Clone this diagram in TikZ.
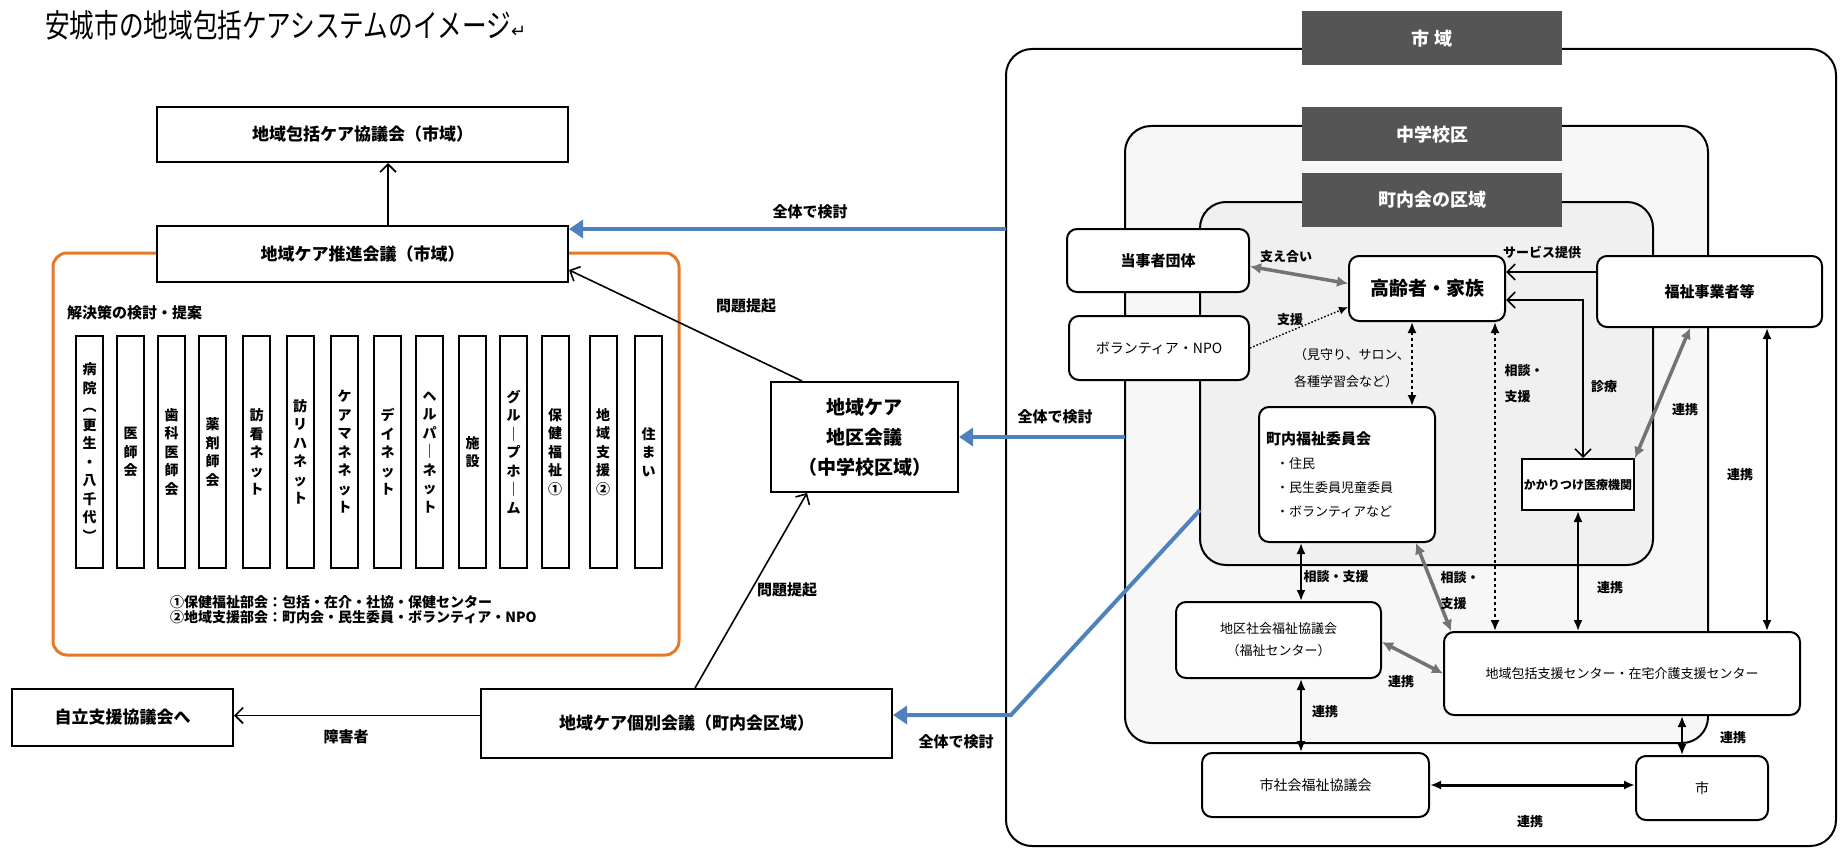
\documentclass[tikz,border=0pt]{standalone}
\usepackage{fontspec}
\setmainfont{Noto Sans CJK JP}
\newfontfamily\titlefont[FakeStretch=0.77]{Noto Sans CJK JP}
\newfontfamily\symfont{DejaVu Sans}
\usetikzlibrary{arrows.meta}
\definecolor{careorange}{RGB}{228,122,40}
\definecolor{careblue}{RGB}{79,129,189}
\definecolor{zonedark}{RGB}{85,85,85}
\tikzset{
  box/.style={draw, line width=2pt, fill=white, align=center, inner sep=0pt,
    font=\bfseries\fontsize{17}{20}\selectfont},
  rbox/.style={box, rounded corners=10pt},
  colbox/.style={draw, line width=2pt, fill=white, minimum width=27pt,
    minimum height=232pt, inner sep=0pt, align=center,
    font=\bfseries\fontsize{14}{18.5}\selectfont},
  zonetag/.style={fill=zonedark, text=white, minimum width=260pt,
    minimum height=54pt, inner sep=0pt, font=\bfseries\fontsize{18}{20}\selectfont},
  zone/.style={draw, line width=2pt, rounded corners=26pt},
  lbl/.style={font=\bfseries\fontsize{15}{18}\selectfont, inner sep=1pt},
  tagtext/.style={font=\bfseries\fontsize{13}{26}\selectfont, inner sep=1pt, align=left},
  conn/.style={line width=1.6pt, -{Straight Barb[length=8pt,width=16pt]}},
  twoway/.style={line width=1.6pt,
    {Straight Barb[length=8pt,width=16pt]}-{Straight Barb[length=8pt,width=16pt]}},
  blueconn/.style={line width=4pt, careblue, -{Triangle[length=14pt,width=18pt]}},
  linkarrow/.style={line width=2pt, {Latex[length=11pt,width=9pt]}-{Latex[length=11pt,width=9pt]}},
  hatcharrow/.style={line width=3.5pt, black!55,
    {Latex[length=11pt,width=11pt]}-{Latex[length=11pt,width=11pt]}},
}
\begin{document}
\begin{tikzpicture}[x=1pt, y=-1pt]
  \useasboundingbox (0,0) rectangle (1843,853);
  \node[anchor=west, inner sep=0pt, font=\titlefont\fontsize{32}{32}\selectfont] (title) at (45,25)
    {安城市の地域包括ケアシステムのイメージ{\symfont\fontsize{18}{18}\selectfont ↵}};

  % regions on the right
  \draw[zone] (1006,49) rectangle (1836,846);
  \draw[zone, fill=black!3] (1125,126) rectangle (1708,743);
  \draw[zone, fill=black!6] (1200,202) rectangle (1653,565);
  \node[zonetag] (shiiki) at (1432,38.5) {市\ 域};
  \node[zonetag] (chugaku) at (1432,134.5) {中学校区};
  \node[zonetag] (chonai) at (1432,200) {町内会の区域};

  % left side
  \draw[line width=3pt, careorange, rounded corners=14pt] (53,253) rectangle (679,655);
  \node[box, minimum width=411pt, minimum height=55pt] (kyogikai) at (362.5,134.5) {地域包括ケア協議会（市域）};
  \node[box, minimum width=411pt, minimum height=56pt] (suishin) at (362.5,254) {地域ケア推進会議（市域）};
  \node[lbl, anchor=west] (kaiketsu) at (66,313) {解決策の検討・提案};
  \foreach \x/\t [count=\i] in {89.5/{病\\院\\︵\\更\\生\\・\\八\\千\\代\\︶}, 130.5/{医\\師\\会},
      171.5/{歯\\科\\医\\師\\会}, 212.5/{薬\\剤\\師\\会}, 256.5/{訪\\看\\ネ\\ッ\\ト},
      300/{訪\\リ\\ハ\\ネ\\ッ\\ト}, 344.5/{ケ\\ア\\マ\\ネ\\ネ\\ッ\\ト}, 387.5/{デ\\イ\\ネ\\ッ\\ト},
      429.5/{ヘ\\ル\\パ\\｜\\ネ\\ッ\\ト}, 472.5/{施\\設}, 513.5/{グ\\ル\\｜\\プ\\ホ\\｜\\ム},
      555/{保\\健\\福\\祉\\①}, 603/{地\\域\\支\\援\\②}, 648.5/{住\\ま\\い}}
    \node[colbox] (col\i) at (\x,452) {\t};
  \node[anchor=west, align=left, inner sep=0pt, font=\bfseries\fontsize{14}{15.5}\selectfont] (bukai) at (170,609.5)
    {①保健福祉部会：包括・在介・社協・保健センター\\②地域支援部会：町内会・民生委員・ボランティア・NPO};
  \node[box, minimum width=187pt, minimum height=110pt, font=\bfseries\fontsize{19}{30}\selectfont] (chiku) at (864.5,437)
    {地域ケア\\地区会議\\（中学校区域）};
  \node[box, minimum width=411pt, minimum height=69pt] (kobetsu) at (686.5,723.5) {地域ケア個別会議（町内会区域）};
  \node[box, minimum width=221pt, minimum height=57pt] (jiritsu) at (122.5,717.5) {自立支援協議会へ};

  \coordinate (shiikiW) at (1006,229);
  \coordinate (chugakuW) at (1125,437);
  \coordinate (chonaiW) at (1200,510);
  \coordinate (bend) at (1011,715);
  \draw[blueconn] (shiikiW) -- (suishin.east |- shiikiW);
  \draw[blueconn] (chugakuW) -- (chiku.east |- chugakuW);
  \draw[blueconn] (chonaiW) -- (bend) -- (kobetsu.east |- bend);

  \draw[conn] ([xshift=25.5pt]suishin.north) -- ([xshift=25.5pt]kyogikai.south);
  \draw[conn] ([xshift=-62.5pt]chiku.north) -- ([yshift=-16pt]suishin.east);
  \draw[conn] ([xshift=8.5pt]kobetsu.north) -- ([xshift=-57.5pt]chiku.south);
  \draw[conn] ([yshift=8pt]kobetsu.west) -- ([yshift=8pt]kobetsu.west -| jiritsu.east);

  \node[lbl] (kento1) at (810,212) {全体で検討};
  \node[lbl] (teiki1) at (746,306) {問題提起};
  \node[lbl] (kento2) at (1055,417) {全体で検討};
  \node[lbl] (teiki2) at (787,590) {問題提起};
  \node[lbl] (shogai) at (346,737) {障害者};
  \node[lbl] (kento3) at (956,742) {全体で検討};

  % right side
  \node[rbox, minimum width=182pt, minimum height=63pt, font=\bfseries\fontsize{15}{18}\selectfont] (tojisha) at (1158,260.5) {当事者団体};
  \node[rbox, minimum width=180pt, minimum height=64pt, font=\fontsize{14}{17}\selectfont] (volunteer) at (1159,348) {ボランティア・NPO};
  \node[rbox, minimum width=156pt, minimum height=65pt, font=\bfseries\fontsize{19}{22}\selectfont] (koreisha) at (1427,288.5) {高齢者・家族};
  \node[rbox, minimum width=225pt, minimum height=71pt, font=\bfseries\fontsize{15}{18}\selectfont] (jigyosha) at (1709.5,291.5) {福祉事業者等};
  \node[rbox, minimum width=176pt, minimum height=135pt, text width=162pt, align=left, font=\fontsize{13}{24}\selectfont] (iinkai) at (1347,474.5)
    {{\bfseries\fontsize{15}{24}\selectfont 町内福祉委員会}\\\hspace*{10pt}・住民\\\hspace*{10pt}・民生委員児童委員\\\hspace*{10pt}・ボランティアなど};
  \node[box, minimum width=112pt, minimum height=51pt, font=\bfseries\fontsize{12}{14}\selectfont] (kakaritsuke) at (1578,484.5) {かかりつけ医療機関};
  \node[rbox, minimum width=205pt, minimum height=76pt, font=\fontsize{13}{22}\selectfont] (chikushakyo) at (1278.5,640) {地区社会福祉協議会\\（福祉センター）};
  \node[rbox, minimum width=356pt, minimum height=83pt, font=\fontsize{13}{16}\selectfont] (hokatsu) at (1622,673.5) {地域包括支援センター・在宅介護支援センター};
  \node[rbox, minimum width=227pt, minimum height=64pt, font=\fontsize{14}{17}\selectfont] (shishakyo) at (1315.5,785) {市社会福祉協議会};
  \node[rbox, minimum width=132pt, minimum height=64pt, font=\fontsize{14}{17}\selectfont] (shi) at (1702,788) {市};

  \draw[hatcharrow] ([yshift=-6pt]tojisha.east) -- ([yshift=5pt]koreisha.west);
  \draw[dotted, line width=1.5pt, -{Latex[length=9pt,width=8pt]}] (volunteer.east) -- ([yshift=-18.5pt]koreisha.west);
  \draw[dashed, linkarrow] ([xshift=-15pt]koreisha.south) -- ([xshift=-15pt]koreisha.south |- iinkai.north);
  \draw[dashed, linkarrow] ([xshift=68pt]koreisha.south) -- ([xshift=68pt]koreisha.south |- hokatsu.north);
  \draw[conn] ([yshift=19.5pt]jigyosha.west) -- ([yshift=19.5pt]jigyosha.west -| koreisha.east);
  \coordinate (shinryo) at (1583,300);
  \draw[twoway] (koreisha.east |- shinryo) -- (shinryo) -- (shinryo |- kakaritsuke.north);
  \draw[hatcharrow] ([xshift=-19.5pt]jigyosha.south) -- (kakaritsuke.north east);
  \draw[linkarrow] ([xshift=57.5pt]jigyosha.south) -- ([xshift=57.5pt]jigyosha.south |- hokatsu.north);
  \draw[linkarrow] (kakaritsuke.south) -- (kakaritsuke.south |- hokatsu.north);
  \draw[linkarrow] ([xshift=-46pt]iinkai.south) -- ([xshift=-46pt]iinkai.south |- chikushakyo.north);
  \draw[hatcharrow] ([xshift=69pt]iinkai.south) -- ([xshift=8pt]hokatsu.north west);
  \draw[hatcharrow] ([yshift=-2pt]chikushakyo.east) -- (hokatsu.west);
  \draw[linkarrow] ([xshift=22.5pt]chikushakyo.south) -- ([xshift=22.5pt]chikushakyo.south |- shishakyo.north);
  \draw[linkarrow, line width=3pt] (shishakyo.east) -- (shishakyo.east -| shi.west);
  \draw[linkarrow] ([xshift=60pt]hokatsu.south) -- ([xshift=60pt]hokatsu.south |- shi.north);

  \node[tagtext] (sasaeai) at (1286,257) {支え合い};
  \node[tagtext] (shien) at (1290,320) {支援};
  \node[tagtext] (service) at (1542,252) {サービス提供};
  \node[tagtext, font=\fontsize{13}{27}\selectfont] (mimamori) at (1352,368) {（見守り、サロン、\\各種学習会など）};
  \node[tagtext] (sodan1) at (1524,384) {相談・\\支援};
  \node[tagtext] (shinryolbl) at (1604,387) {診療};
  \node[tagtext] (renkei1) at (1685,410) {連携};
  \node[tagtext] (renkei2) at (1740,475) {連携};
  \node[tagtext] (renkei3) at (1610,588) {連携};
  \node[tagtext] (sodan2) at (1336,577) {相談・支援};
  \node[tagtext] (sodan3) at (1460,591) {相談・\\支援};
  \node[tagtext] (renkei4) at (1401,682) {連携};
  \node[tagtext] (renkei5) at (1325,712) {連携};
  \node[tagtext] (renkei6) at (1733,738) {連携};
  \node[tagtext] (renkei7) at (1530,822) {連携};
\end{tikzpicture}
\end{document}
